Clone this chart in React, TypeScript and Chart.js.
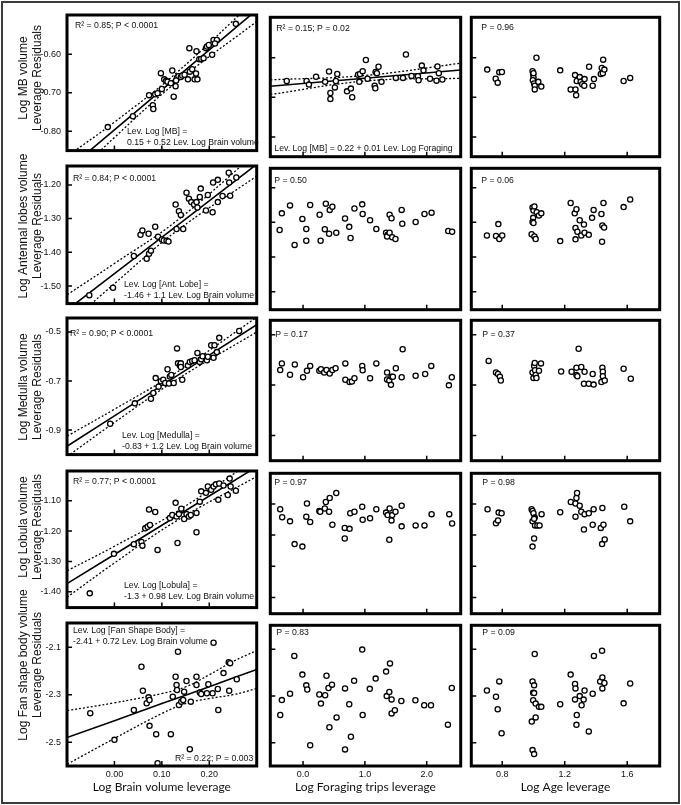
import React, { useEffect, useRef } from "react";
import { Chart, registerables } from "chart.js";
Chart.register(...registerables);

type Pt = [number, number];

const FONT = '"Liberation Sans", Arial, Helvetica, sans-serif';
const TITLE_FONT = 'Lato, "Open Sans", sans-serif';

// ---------- axes ----------
const brainTicks = [0, 0.1, 0.2];
const brainTickLabels = ["0.00", "0.10", "0.20"];
const forageTicks = [0, 1, 2];
const forageTickLabels = ["0.0", "1.0", "2.0"];
const ageTicks = [0.8, 1.2, 1.6];
const ageTickLabels = ["0.8", "1.2", "1.6"];
const xTitles = ["Log Brain volume leverage", "Log Foraging trips leverage", "Log Age leverage"];
const xRanges: Pt[] = [[-0.1, 0.3], [-0.53, 2.55], [0.602, 1.808]];

const mbTicks = [-0.6, -0.7, -0.8];
const mbTickLabels = ["-0.60", "-0.70", "-0.80"];
const alTicks = [-1.2, -1.3, -1.4, -1.5];
const alTickLabels = ["-1.20", "-1.30", "-1.40", "-1.50"];
const medTicks = [-0.5, -0.7, -0.9];
const medTickLabels = ["-0.5", "-0.7", "-0.9"];
const lobTicks = [-1.1, -1.2, -1.3, -1.4];
const lobTickLabels = ["-1.10", "-1.20", "-1.30", "-1.40"];
const fsbTicks = [-2.1, -2.3, -2.5];
const fsbTickLabels = ["-2.1", "-2.3", "-2.5"];
const yRanges: Pt[] = [[-0.85, -0.498], [-1.552, -1.144], [-1.0, -0.443], [-1.452, -1.002], [-2.6, -1.998]];
const yTitles = [
  ["Log MB volume", "Leverage Residuals"],
  ["Log Antennal lobes volume", "Leverage Residuals"],
  ["Log Medulla volume", "Leverage Residuals"],
  ["Log Lobula volume", "Leverage Residuals"],
  ["Log Fan shape body volume", "Leverage Residuals"],
];

// ---------- row 1: MB ----------
const mbBrain: Pt[] = [[-0.014,-0.789],[0.039,-0.761],[0.073,-0.706],[0.081,-0.732],[0.082,-0.742],[0.086,-0.704],[0.091,-0.701],[0.098,-0.649],[0.105,-0.665],[0.109,-0.669],[0.112,-0.671],[0.119,-0.675],[0.122,-0.642],[0.125,-0.710],[0.129,-0.683],[0.132,-0.661],[0.135,-0.657],[0.140,-0.659],[0.143,-0.655],[0.148,-0.653],[0.155,-0.665],[0.158,-0.584],[0.159,-0.645],[0.164,-0.639],[0.169,-0.665],[0.172,-0.650],[0.173,-0.592],[0.175,-0.665],[0.179,-0.613],[0.183,-0.612],[0.188,-0.610],[0.193,-0.584],[0.195,-0.580],[0.199,-0.576],[0.206,-0.601],[0.209,-0.563],[0.216,-0.563],[0.256,-0.521],[0.212,-0.572],[0.100,-0.690],[0.130,-0.668]];
const mbBrainFitX = [-0.1, 0.0, 0.13, 0.3];
const mbBrainFit = [-0.900, -0.796, -0.661, -0.485];
const mbBrainUpper = [-0.865, -0.776, -0.649, -0.455];
const mbBrainLower = [-0.935, -0.816, -0.673, -0.515];
const mbForage: Pt[] = [[-0.264,-0.659],[0.057,-0.659],[0.095,-0.668],[0.210,-0.648],[0.357,-0.661],[0.420,-0.635],[0.442,-0.689],[0.442,-0.704],[0.515,-0.675],[0.531,-0.659],[0.553,-0.641],[0.711,-0.685],[0.774,-0.678],[0.795,-0.700],[0.889,-0.643],[0.910,-0.661],[0.921,-0.641],[0.964,-0.634],[1.016,-0.606],[1.043,-0.653],[1.158,-0.671],[1.169,-0.677],[1.174,-0.636],[1.194,-0.639],[1.221,-0.623],[1.269,-0.661],[1.501,-0.651],[1.616,-0.651],[1.664,-0.592],[1.754,-0.646],[1.858,-0.647],[1.869,-0.657],[1.921,-0.620],[1.948,-0.632],[2.054,-0.653],[2.158,-0.658],[2.174,-0.622],[2.196,-0.639],[2.253,-0.655]];
const mbForageFitX = [-0.53, 1.0, 2.55];
const mbForageFit = [-0.672, -0.652, -0.631];
const mbForageUpper = [-0.656, -0.645, -0.614];
const mbForageLower = [-0.693, -0.659, -0.652];
const mbAge: Pt[] = [[0.704,-0.630],[0.758,-0.653],[0.771,-0.663],[0.781,-0.637],[0.798,-0.636],[0.994,-0.634],[0.998,-0.642],[1.000,-0.650],[0.996,-0.657],[1.004,-0.665],[1.008,-0.671],[1.008,-0.680],[1.019,-0.600],[1.031,-0.661],[1.050,-0.673],[1.171,-0.632],[1.238,-0.680],[1.266,-0.644],[1.269,-0.680],[1.273,-0.695],[1.277,-0.659],[1.296,-0.649],[1.302,-0.661],[1.312,-0.667],[1.325,-0.671],[1.327,-0.654],[1.356,-0.623],[1.379,-0.671],[1.387,-0.654],[1.431,-0.641],[1.437,-0.626],[1.444,-0.639],[1.446,-0.605],[1.454,-0.630],[1.577,-0.659],[1.619,-0.651],[1.000,-0.639]];

// ---------- row 2: antennal lobes ----------
const alBrain: Pt[] = [[-0.053,-1.527],[-0.003,-1.505],[0.041,-1.411],[0.055,-1.348],[0.059,-1.335],[0.072,-1.345],[0.068,-1.419],[0.073,-1.404],[0.077,-1.395],[0.086,-1.324],[0.092,-1.354],[0.100,-1.362],[0.104,-1.365],[0.110,-1.366],[0.114,-1.368],[0.129,-1.258],[0.131,-1.331],[0.136,-1.278],[0.140,-1.289],[0.145,-1.331],[0.152,-1.223],[0.157,-1.241],[0.162,-1.251],[0.168,-1.258],[0.173,-1.251],[0.175,-1.267],[0.180,-1.236],[0.182,-1.211],[0.193,-1.276],[0.197,-1.230],[0.207,-1.281],[0.208,-1.193],[0.218,-1.185],[0.218,-1.251],[0.228,-1.233],[0.241,-1.164],[0.242,-1.193],[0.244,-1.232],[0.257,-1.178]];
const alBrainFitX = [-0.1, 0.0, 0.13, 0.3];
const alBrainFit = [-1.571, -1.463, -1.323, -1.139];
const alBrainUpper = [-1.526, -1.433, -1.308, -1.104];
const alBrainLower = [-1.616, -1.493, -1.338, -1.174];
const alForage: Pt[] = [[-0.379,-1.322],[-0.343,-1.274],[-0.211,-1.251],[-0.137,-1.365],[-0.011,-1.290],[0.052,-1.319],[0.052,-1.353],[0.115,-1.250],[0.268,-1.278],[0.284,-1.353],[0.352,-1.320],[0.368,-1.246],[0.421,-1.333],[0.431,-1.264],[0.474,-1.255],[0.537,-1.330],[0.679,-1.289],[0.747,-1.313],[0.768,-1.345],[0.831,-1.260],[0.957,-1.248],[0.964,-1.276],[1.084,-1.294],[1.185,-1.319],[1.343,-1.330],[1.368,-1.336],[1.359,-1.341],[1.400,-1.278],[1.400,-1.330],[1.431,-1.288],[1.442,-1.343],[1.495,-1.348],[1.595,-1.264],[1.605,-1.304],[1.821,-1.299],[1.964,-1.276],[2.079,-1.272],[2.348,-1.325],[2.411,-1.327]];
const alAge: Pt[] = [[0.702,-1.338],[0.760,-1.339],[0.775,-1.305],[0.781,-1.348],[0.800,-1.338],[0.988,-1.334],[0.994,-1.257],[1.000,-1.266],[1.006,-1.254],[0.998,-1.287],[0.994,-1.299],[1.000,-1.302],[1.006,-1.341],[1.014,-1.348],[1.021,-1.271],[1.035,-1.280],[1.050,-1.274],[1.171,-1.354],[1.238,-1.244],[1.264,-1.274],[1.275,-1.262],[1.269,-1.316],[1.281,-1.327],[1.269,-1.349],[1.296,-1.294],[1.306,-1.338],[1.323,-1.306],[1.327,-1.330],[1.354,-1.336],[1.375,-1.287],[1.385,-1.264],[1.435,-1.276],[1.439,-1.356],[1.441,-1.309],[1.448,-1.244],[1.452,-1.315],[1.577,-1.256],[1.619,-1.234]];

// ---------- row 3: medulla ----------
const medBrain: Pt[] = [[-0.009,-0.874],[0.043,-0.791],[0.077,-0.772],[0.082,-0.749],[0.087,-0.688],[0.093,-0.723],[0.098,-0.701],[0.103,-0.695],[0.107,-0.708],[0.112,-0.652],[0.115,-0.710],[0.117,-0.682],[0.120,-0.675],[0.125,-0.708],[0.132,-0.567],[0.134,-0.628],[0.138,-0.637],[0.140,-0.628],[0.143,-0.695],[0.140,-0.643],[0.155,-0.637],[0.159,-0.622],[0.164,-0.618],[0.169,-0.615],[0.175,-0.586],[0.180,-0.622],[0.183,-0.611],[0.186,-0.599],[0.195,-0.615],[0.197,-0.601],[0.204,-0.554],[0.209,-0.605],[0.211,-0.554],[0.216,-0.582],[0.221,-0.524],[0.263,-0.496]];
const medBrainFitX = [-0.1, 0.0, 0.13, 0.3];
const medBrainFit = [-0.966, -0.842, -0.681, -0.470];
const medBrainUpper = [-0.925, -0.815, -0.666, -0.440];
const medBrainLower = [-1.008, -0.869, -0.696, -0.500];
const medForage: Pt[] = [[-0.370,-0.640],[-0.343,-0.614],[-0.211,-0.659],[-0.133,-0.618],[0.000,-0.669],[0.063,-0.643],[0.115,-0.624],[0.263,-0.643],[0.289,-0.637],[0.342,-0.650],[0.379,-0.640],[0.431,-0.654],[0.474,-0.640],[0.526,-0.633],[0.684,-0.614],[0.684,-0.679],[0.752,-0.688],[0.790,-0.686],[0.831,-0.673],[0.957,-0.624],[0.964,-0.641],[1.084,-0.673],[1.185,-0.614],[1.359,-0.650],[1.359,-0.678],[1.395,-0.682],[1.422,-0.699],[1.431,-0.667],[1.453,-0.667],[1.501,-0.633],[1.595,-0.669],[1.611,-0.558],[1.821,-0.663],[1.975,-0.656],[2.074,-0.624],[2.359,-0.701],[2.406,-0.669]];
const medAge: Pt[] = [[0.713,-0.604],[0.760,-0.650],[0.773,-0.656],[0.785,-0.667],[0.791,-0.682],[0.994,-0.650],[1.000,-0.672],[1.004,-0.624],[1.008,-0.612],[1.010,-0.641],[1.014,-0.660],[1.019,-0.672],[1.035,-0.643],[1.048,-0.614],[1.177,-0.646],[1.244,-0.647],[1.275,-0.660],[1.275,-0.631],[1.281,-0.665],[1.289,-0.556],[1.306,-0.628],[1.327,-0.647],[1.323,-0.695],[1.354,-0.695],[1.379,-0.656],[1.385,-0.698],[1.435,-0.688],[1.441,-0.631],[1.444,-0.647],[1.444,-0.665],[1.456,-0.682],[1.577,-0.635],[1.623,-0.675]];

// ---------- row 4: lobula ----------
const lobBrain: Pt[] = [[-0.052,-1.405],[-0.001,-1.275],[0.041,-1.243],[0.057,-1.236],[0.059,-1.248],[0.065,-1.191],[0.070,-1.186],[0.073,-1.129],[0.075,-1.180],[0.086,-1.137],[0.091,-1.262],[0.117,-1.157],[0.122,-1.147],[0.129,-1.107],[0.131,-1.152],[0.133,-1.239],[0.136,-1.144],[0.141,-1.126],[0.147,-1.160],[0.152,-1.144],[0.157,-1.152],[0.161,-1.147],[0.173,-1.140],[0.173,-1.204],[0.180,-1.103],[0.183,-1.069],[0.193,-1.074],[0.197,-1.053],[0.204,-1.064],[0.209,-1.053],[0.214,-1.046],[0.219,-1.097],[0.221,-1.043],[0.230,-1.050],[0.239,-1.081],[0.243,-1.027],[0.245,-1.053],[0.256,-1.067]];
const lobBrainFitX = [-0.1, 0.0, 0.13, 0.3];
const lobBrainFit = [-1.373, -1.277, -1.152, -0.988];
const lobBrainUpper = [-1.331, -1.250, -1.137, -0.960];
const lobBrainLower = [-1.418, -1.305, -1.167, -1.020];
const lobForage: Pt[] = [[-0.370,-1.117],[-0.338,-1.143],[-0.211,-1.156],[-0.137,-1.229],[-0.011,-1.237],[0.052,-1.141],[0.063,-1.099],[0.115,-1.158],[0.263,-1.123],[0.278,-1.125],[0.352,-1.115],[0.368,-1.094],[0.421,-1.125],[0.431,-1.081],[0.474,-1.167],[0.537,-1.065],[0.674,-1.177],[0.674,-1.211],[0.752,-1.180],[0.763,-1.130],[0.831,-1.125],[0.957,-1.109],[0.964,-1.151],[1.084,-1.146],[1.185,-1.117],[1.343,-1.128],[1.368,-1.136],[1.400,-1.115],[1.431,-1.153],[1.442,-1.136],[1.495,-1.125],[1.395,-1.215],[1.595,-1.106],[1.595,-1.172],[1.821,-1.169],[1.964,-1.169],[2.079,-1.133],[2.365,-1.133],[2.411,-1.163]];
const lobAge: Pt[] = [[0.706,-1.117],[0.760,-1.162],[0.773,-1.153],[0.777,-1.128],[0.796,-1.130],[0.988,-1.117],[0.994,-1.123],[1.000,-1.130],[1.008,-1.144],[0.994,-1.156],[1.004,-1.148],[1.010,-1.169],[1.004,-1.211],[0.994,-1.237],[1.025,-1.169],[1.039,-1.169],[1.052,-1.133],[1.171,-1.127],[1.239,-1.094],[1.269,-1.099],[1.269,-1.141],[1.275,-1.081],[1.279,-1.065],[1.296,-1.106],[1.306,-1.125],[1.323,-1.182],[1.327,-1.133],[1.354,-1.130],[1.379,-1.167],[1.385,-1.117],[1.431,-1.177],[1.441,-1.113],[1.448,-1.167],[1.456,-1.214],[1.439,-1.229],[1.581,-1.109],[1.619,-1.156]];

// ---------- row 5: fan shape body ----------
const fsbBrain: Pt[] = [[-0.051,-2.378],[0.000,-2.490],[0.041,-2.364],[0.057,-2.182],[0.060,-2.283],[0.068,-2.336],[0.072,-2.311],[0.074,-2.322],[0.074,-2.431],[0.088,-2.466],[0.091,-2.588],[0.119,-2.466],[0.123,-2.308],[0.129,-2.224],[0.131,-2.259],[0.132,-2.280],[0.134,-2.119],[0.136,-2.343],[0.141,-2.329],[0.145,-2.322],[0.147,-2.287],[0.152,-2.242],[0.159,-2.529],[0.161,-2.329],[0.173,-2.224],[0.173,-2.259],[0.180,-2.291],[0.183,-2.297],[0.195,-2.294],[0.198,-2.256],[0.207,-2.294],[0.209,-2.081],[0.218,-2.276],[0.219,-2.364],[0.230,-2.209],[0.241,-2.163],[0.244,-2.167],[0.242,-2.283],[0.258,-2.235]];
const fsbBrainFitX = [-0.1, 0.0, 0.1, 0.15, 0.2, 0.25, 0.3];
const fsbBrainFit = [-2.480, -2.409, -2.337, -2.302, -2.266, -2.230, -2.194];
const fsbBrainUpper = [-2.367, -2.334, -2.295, -2.267, -2.216, -2.160, -2.114];
const fsbBrainLower = [-2.593, -2.484, -2.379, -2.337, -2.316, -2.300, -2.274];
const fsbForage: Pt[] = [[-0.369,-2.382],[-0.343,-2.318],[-0.211,-2.291],[-0.142,-2.129],[-0.011,-2.209],[0.052,-2.255],[0.068,-2.273],[0.115,-2.511],[0.263,-2.294],[0.289,-2.333],[0.357,-2.297],[0.379,-2.214],[0.411,-2.266],[0.426,-2.434],[0.468,-2.252],[0.542,-2.392],[0.679,-2.268],[0.679,-2.529],[0.747,-2.336],[0.774,-2.475],[0.826,-2.235],[0.957,-2.102],[0.964,-2.382],[1.079,-2.270],[1.174,-2.226],[1.343,-2.196],[1.353,-2.301],[1.395,-2.283],[1.406,-2.161],[1.432,-2.315],[1.432,-2.375],[1.485,-2.361],[1.590,-2.322],[1.817,-2.319],[1.959,-2.340],[2.069,-2.340],[2.343,-2.423],[2.406,-2.266]];
const fsbAge: Pt[] = [[0.702,-2.277],[0.760,-2.304],[0.771,-2.357],[0.781,-2.238],[0.796,-2.460],[0.994,-2.238],[1.004,-2.255],[0.998,-2.287],[1.004,-2.288],[0.998,-2.319],[1.008,-2.121],[1.014,-2.333],[0.989,-2.410],[1.014,-2.392],[1.035,-2.347],[1.050,-2.347],[0.994,-2.532],[1.004,-2.549],[1.171,-2.336],[1.238,-2.209],[1.266,-2.249],[1.269,-2.268],[1.266,-2.315],[1.277,-2.382],[1.275,-2.424],[1.296,-2.301],[1.308,-2.340],[1.321,-2.316],[1.327,-2.277],[1.354,-2.452],[1.379,-2.291],[1.387,-2.129],[1.427,-2.238],[1.439,-2.107],[1.441,-2.221],[1.441,-2.268],[1.454,-2.245],[1.577,-2.332],[1.619,-2.247]];

// ---------- panel annotations: [text, dx, dy(+ from top / - from bottom)] ----------
type Note = [string, number, number];
const notes: Note[][][] = [
  [
    [["R² = 0.85; P < 0.0001", 8, 11], ["Lev. Log [MB] =", 60, -19], ["0.15 + 0.52 Lev. Log Brain volume", 60, -8]],
    [["R² = 0.15; P = 0.02", 6, 11], ["Lev. Log [MB] = 0.22 + 0.01 Lev. Log Foraging", 4, -8]],
    [["P = 0.96", 10, 10]],
  ],
  [
    [["R² = 0.84; P < 0.0001", 6, 13], ["Lev. Log [Ant. Lobe] =", 57, -19], ["-1.46 + 1.1 Lev. Log Brain volume", 57, -8]],
    [["P = 0.50", 4, 12]],
    [["P = 0.06", 10, 12]],
  ],
  [
    [["R² = 0.90; P < 0.0001", 3, 16], ["Lev. Log [Medulla] =", 55, -19], ["-0.83 + 1.2 Lev. Log Brain volume", 55, -8]],
    [["P = 0.17", 5, 14]],
    [["P = 0.37", 11, 14]],
  ],
  [
    [["R² = 0.77; P < 0.0001", 6, 11], ["Lev. Log [Lobula] =", 57, -22], ["-1.3 + 0.98 Lev. Log Brain volume", 57, -11]],
    [["P = 0.97", 4, 9]],
    [["P = 0.98", 11, 9]],
  ],
  [
    [["Lev. Log [Fan Shape Body] =", 6, 8], ["-2.41 + 0.72 Lev. Log Brain volume", 6, 19], ["R² = 0.22; P = 0.003", 108, -7]],
    [["P = 0.83", 6, 7]],
    [["P = 0.09", 11, 7]],
  ],
];

type Fit = { x: number[]; fit: number[]; upper: number[]; lower: number[] } | null;
const points: Pt[][][] = [
  [mbBrain, mbForage, mbAge],
  [alBrain, alForage, alAge],
  [medBrain, medForage, medAge],
  [lobBrain, lobForage, lobAge],
  [fsbBrain, fsbForage, fsbAge],
];
const fits: Fit[][] = [
  [{ x: mbBrainFitX, fit: mbBrainFit, upper: mbBrainUpper, lower: mbBrainLower }, { x: mbForageFitX, fit: mbForageFit, upper: mbForageUpper, lower: mbForageLower }, null],
  [{ x: alBrainFitX, fit: alBrainFit, upper: alBrainUpper, lower: alBrainLower }, null, null],
  [{ x: medBrainFitX, fit: medBrainFit, upper: medBrainUpper, lower: medBrainLower }, null, null],
  [{ x: lobBrainFitX, fit: lobBrainFit, upper: lobBrainUpper, lower: lobBrainLower }, null, null],
  [{ x: fsbBrainFitX, fit: fsbBrainFit, upper: fsbBrainUpper, lower: fsbBrainLower }, null, null],
];
const xTicks = [brainTicks, forageTicks, ageTicks];
const xTickLabels = [brainTickLabels, forageTickLabels, ageTickLabels];
const yTicks = [mbTicks, alTicks, medTicks, lobTicks, fsbTicks];
const yTickLabels = [mbTickLabels, alTickLabels, medTickLabels, lobTickLabels, fsbTickLabels];

// ---------- layout (pixels) ----------
const COLS = [{ left: 67, right: 259 }, { left: 268, right: 463 }, { left: 469, right: 662 }];
const ROWS = [{ top: 15, bottom: 159 }, { top: 166, bottom: 312 }, { top: 318, bottom: 463 }, { top: 471, bottom: 616 }, { top: 623, bottom: 766 }];
const Y_TITLE_CENTER = [78, 226, 387, 527, 665];
const Y_TITLE_X = [24, 38];
const Y_AXIS_W = 67;
const X_AXIS_H = 34;
const EXT_TOP = 40;

function geometry(r: number, c: number) {
  const L = COLS[c].left, R = COLS[c].right, T = ROWS[r].top, B = ROWS[r].bottom;
  const padL = c === 0 ? 0 : 3;
  const axisW = c === 0 ? Y_AXIS_W : 0;
  const padT = 3 + (c === 0 ? EXT_TOP : 0);
  const axisH = r === 4 ? X_AXIS_H : 0;
  const left = L - axisW - padL;
  const top = T - padT;
  const right = R + 3;
  const bottom = B + axisH + 3;
  return { left, top, w: right - left, h: bottom - top, padL, padT, axisW, axisH };
}

function makeDeco(r: number, c: number, canvasTop: number) {
  return {
    id: "panelDeco",
    afterDraw(chart: any) {
      const { ctx, chartArea: a, scales } = chart;
      ctx.save();
      ctx.strokeStyle = "#000";
      ctx.lineWidth = 1.5;
      ctx.beginPath();
      for (const v of xTicks[c]) {
        const px = scales.x.getPixelForValue(v);
        ctx.moveTo(px, a.bottom);
        ctx.lineTo(px, a.bottom - 5);
      }
      for (const v of yTicks[r]) {
        const py = scales.y.getPixelForValue(v);
        ctx.moveTo(a.left, py);
        ctx.lineTo(a.left + 5, py);
      }
      ctx.stroke();
      ctx.lineWidth = 3;
      ctx.strokeRect(a.left, a.top, a.right - a.left, a.bottom - a.top);

      ctx.fillStyle = "#111";
      ctx.font = `8.7px ${FONT}`;
      ctx.textBaseline = "middle";
      ctx.textAlign = "left";
      for (const [t, dx, dy] of notes[r][c]) {
        const y = dy >= 0 ? a.top + dy : a.bottom + dy;
        ctx.fillText(t, a.left + dx, y);
      }

      if (c === 0) {
        ctx.font = `12px ${FONT}`;
        ctx.textAlign = "center";
        const yc = Y_TITLE_CENTER[r] - canvasTop;
        yTitles[r].forEach((t, i) => {
          ctx.save();
          ctx.translate(Y_TITLE_X[i], yc);
          ctx.rotate(-Math.PI / 2);
          ctx.fillText(t, 0, 0);
          ctx.restore();
        });
      }
      ctx.restore();
    },
  };
}

function buildConfig(r: number, c: number, g: ReturnType<typeof geometry>): any {
  const datasets: any[] = [
    {
      label: "points",
      data: points[r][c].map(([x, y]) => ({ x, y })),
      showLine: false,
      pointRadius: 2.6,
      pointBorderWidth: 1.3,
      pointBackgroundColor: "#fff",
      pointBorderColor: "#000",
      order: 0,
    },
  ];
  const f = fits[r][c];
  if (f) {
    const mk = (ys: number[]) => f.x.map((x, i) => ({ x, y: ys[i] }));
    datasets.push({ label: "fit", data: mk(f.fit), showLine: true, borderColor: "#000", borderWidth: 1.6, pointRadius: 0, order: 1 });
    datasets.push({ label: "upper", data: mk(f.upper), showLine: true, borderColor: "#000", borderWidth: 1.3, borderDash: [2, 2], pointRadius: 0, tension: 0.4, order: 2 });
    datasets.push({ label: "lower", data: mk(f.lower), showLine: true, borderColor: "#000", borderWidth: 1.3, borderDash: [2, 2], pointRadius: 0, tension: 0.4, order: 2 });
  }
  const showX = r === 4;
  const showY = c === 0;
  return {
    type: "scatter",
    data: { datasets },
    options: {
      animation: false,
      responsive: false,
      events: [],
      layout: { padding: { left: g.padL, top: g.padT, right: 3, bottom: 3 } },
      plugins: { legend: { display: false }, tooltip: { enabled: false }, title: { display: false } },
      scales: {
        x: {
          type: "linear",
          position: "bottom",
          min: xRanges[c][0],
          max: xRanges[c][1],
          grid: { display: false, drawTicks: false },
          border: { display: false },
          afterBuildTicks: (s: any) => { s.ticks = xTicks[c].map((v) => ({ value: v })); },
          afterFit: (s: any) => { s.height = g.axisH; },
          ticks: {
            display: showX,
            autoSkip: false,
            maxRotation: 0,
            padding: 3,
            color: "#111",
            font: { family: FONT, size: 9 },
            callback: (v: number) => xTickLabels[c][xTicks[c].findIndex((t) => Math.abs(t - v) < 1e-9)] ?? "",
          },
          title: {
            display: showX,
            text: xTitles[c],
            color: "#111",
            font: { family: TITLE_FONT, size: 12 },
            padding: { top: 0, bottom: 6 },
          },
        },
        y: {
          type: "linear",
          position: "left",
          min: yRanges[r][0],
          max: yRanges[r][1],
          grid: { display: false, drawTicks: false },
          border: { display: false },
          afterBuildTicks: (s: any) => { s.ticks = yTicks[r].map((v) => ({ value: v })); },
          afterFit: (s: any) => { s.width = g.axisW; },
          ticks: {
            display: showY,
            autoSkip: false,
            padding: 6,
            color: "#111",
            font: { family: FONT, size: 9 },
            callback: (v: number) => yTickLabels[r][yTicks[r].findIndex((t) => Math.abs(t - v) < 1e-9)] ?? "",
          },
          title: { display: false },
        },
      },
    },
    plugins: [makeDeco(r, c, g.top)],
  };
}

function Panel({ r, c }: { r: number; c: number }) {
  const ref = useRef<HTMLCanvasElement | null>(null);
  const g = geometry(r, c);
  useEffect(() => {
    const chart = new Chart(ref.current as HTMLCanvasElement, buildConfig(r, c, g));
    return () => chart.destroy();
  }, [r, c]);
  return (
    <canvas
      ref={ref}
      width={g.w}
      height={g.h}
      style={{ position: "absolute", left: g.left, top: g.top, width: g.w, height: g.h }}
    />
  );
}

export default function App() {
  const panels: React.ReactNode[] = [];
  for (let r = 0; r < 5; r++) for (let c = 0; c < 3; c++) panels.push(<Panel key={`${r}-${c}`} r={r} c={c} />);
  return (
    <div style={{ position: "fixed", left: 0, top: 0, width: 681, height: 805, background: "#fff", overflow: "hidden" }}>
      <div style={{ position: "absolute", left: 1, top: 1, width: 679, height: 803, border: "2px solid #3c3c3c", boxSizing: "border-box" }} />
      {panels}
    </div>
  );
}
